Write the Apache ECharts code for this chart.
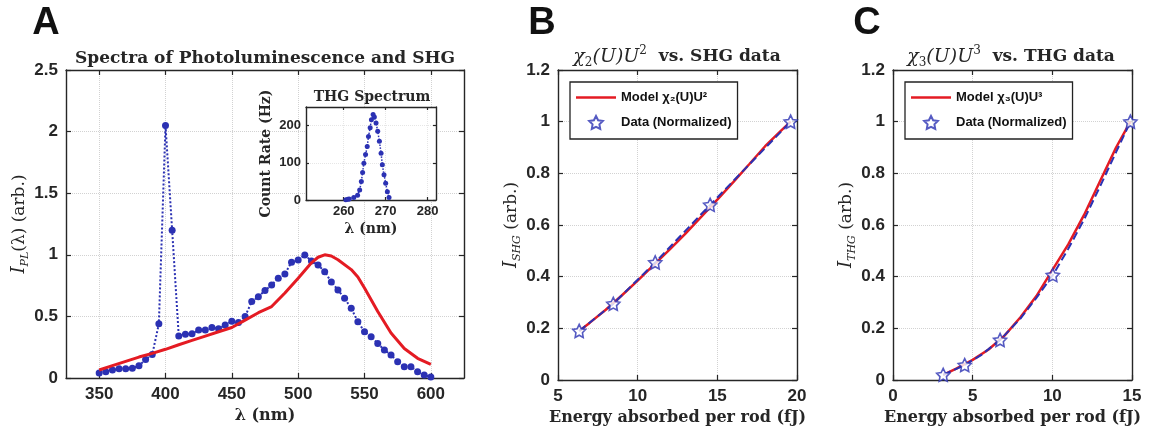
<!DOCTYPE html>
<html><head><meta charset="utf-8">
<script src="https://cdn.jsdelivr.net/npm/echarts@6/dist/echarts.min.js"></script>
<style>html,body{margin:0;padding:0;background:#fff}#c{width:1158px;height:434px}</style>
</head><body><div id="c"></div>
<script>
// ---------- Panel A : PL + SHG spectrum ----------
const plWavelength = [350,355,360,365,370,375,380,385,390,395,400,405,410,415,420,425,430,435,440,445,450,455,460,465,470,475,480,485,490,495,500,505,510,515,520,525,530,535,540,545,550,555,560,565,570,575,580,585,590,595,600];
const plSignal = [0.04,0.05,0.065,0.075,0.075,0.08,0.10,0.15,0.19,0.44,2.05,1.20,0.34,0.355,0.36,0.39,0.39,0.41,0.40,0.43,0.46,0.45,0.50,0.62,0.66,0.71,0.755,0.81,0.845,0.94,0.958,0.998,0.95,0.917,0.863,0.78,0.714,0.647,0.566,0.457,0.376,0.335,0.28,0.227,0.187,0.132,0.092,0.092,0.051,0.024,0.008];
const plModelWavelength = [350,360,370,380,390,400,410,420,430,440,450,460,470,480,490,500,510,515,520,525,530,540,545,550,560,570,580,590,600];
const plModel = [0.065,0.10,0.135,0.17,0.20,0.233,0.27,0.305,0.34,0.375,0.41,0.47,0.53,0.58,0.69,0.81,0.935,0.98,1.0,0.99,0.96,0.88,0.82,0.73,0.54,0.365,0.24,0.16,0.11];
const plTicks = [350,400,450,500,550,600];

// ---------- Inset : THG spectrum ----------
const thgWavelength = [260.5,261,261.3,262.4,263.3,263.8,264.2,264.5,264.8,265.2,265.6,265.9,266.3,266.6,267,267.3,267.7,268.1,268.5,268.9,269.2,269.6,270,270.4,270.8];
const thgCount = [1,2,3,7,13,27,50,74,99,122,144,171,194,216,230,223,207,185,158,126,95,68,45,22,7];
const insetXTicks = [260,270,280];
const insetYTicks = [0,100,200];

// ---------- Panel B : SHG vs energy ----------
const shgEnergy = [6.33,8.47,11.1,14.55,19.6];
const shgData = [0.19,0.295,0.455,0.678,1.0];
const shgModelEnergy = [6.33,7,8,9,10,11,12,13,14,15,16,17,18,19,19.6];
const shgModel = [0.19,0.222,0.272,0.327,0.385,0.445,0.505,0.567,0.632,0.698,0.766,0.835,0.905,0.965,1.0];

// ---------- Panel C : THG vs energy ----------
const thgEnergy = [3.15,4.5,6.72,10.03,14.9];
const thgData = [0.02,0.058,0.155,0.406,1.0];
const thgModelEnergy = [3.15,4,5,6,7,8,9,10,11,12,13,14,14.9];
const thgModel = [0.02,0.045,0.078,0.118,0.172,0.243,0.325,0.425,0.525,0.64,0.77,0.9,1.0];
const thgFitEnergy = [3.15,4.5,5.5,6.72,8,9,10.03,11,12,13,14,14.9];
const thgFit = [0.02,0.058,0.095,0.155,0.238,0.318,0.406,0.508,0.622,0.75,0.882,1.0];

const legendModelB = 'Model \u03C7\u2082(U)U\u00B2';
const legendModelC = 'Model \u03C7\u2083(U)U\u00B3';
const legendData = 'Data (Normalized)';

// ---------- styling ----------
const SANS = 'Liberation Sans, Arial, sans-serif';
const SERIF = 'DejaVu Serif, serif';
const INK = '#262626';
const RED = '#e41b23';
const BLUE = '#2b31b3';
const starPath = 'path://M0,-10L2.94,-4.05L9.51,-3.09L4.76,1.55L5.88,8.09L0,5L-5.88,8.09L-4.76,1.55L-9.51,-3.09L-2.94,-4.05Z';
const lineIcon = 'path://M0,0L40,0L40,2.6L0,2.6Z';
const zip = (xs, ys) => xs.map((x, i) => [x, ys[i]]);

function ax(gridIndex, position, min, max, ticks, extra, small) {
  const main = position === 'bottom' || position === 'left';
  const a = {
    type: 'value', gridIndex, position, min, max,
    axisLine: {show: true, onZero: false, lineStyle: {color: INK, width: 1.4}},
    axisTick: {show: true, inside: true, length: small ? 3 : 5, lineStyle: {color: INK, width: 1.2}},
    axisLabel: {show: main, color: INK, fontFamily: SANS, fontWeight: 'bold', fontSize: small ? 13 : 17, margin: small ? 5 : 8},
    splitLine: {show: main, lineStyle: {color: small ? '#e6e6e6' : '#d2d2d2', type: 'dotted', width: 1}}
  };
  if (Array.isArray(ticks)) {
    a.axisTick.customValues = ticks;
    a.axisLabel.customValues = ticks;
  } else {
    a.interval = ticks;
  }
  return Object.assign(a, extra || {});
}

const richSub = (size) => ({
  i: {fontFamily: SERIF, fontStyle: 'italic', fontSize: size + 1, lineHeight: 22, color: INK},
  s: {fontFamily: SERIF, fontStyle: 'italic', fontSize: 11, lineHeight: 12, verticalAlign: 'bottom', color: INK},
  n: {fontFamily: SERIF, fontSize: size, lineHeight: 22, color: INK}
});

const titleRich = {
  m: {font: 'italic 19px ' + SERIF, fill: INK, lineHeight: 24},
  s: {font: '12px ' + SERIF, fill: INK, lineHeight: 13, verticalAlign: 'bottom'},
  p: {font: '12px ' + SERIF, fill: INK, lineHeight: 13, verticalAlign: 'top'},
  b: {font: 'bold 17px ' + SERIF, fill: INK, lineHeight: 24}
};

const xNameStyle = {fontFamily: SERIF, fontWeight: 'bold', fontSize: 16, color: INK};

const legendBase = {
  orient: 'vertical', itemWidth: 40, itemHeight: 13, itemGap: 11,
  padding: [9, 6, 9, 6], borderColor: '#222', borderWidth: 1.3, backgroundColor: '#fff',
  textStyle: {fontFamily: SANS, fontWeight: 'bold', fontSize: 13, color: '#111'},
  selectedMode: false
};

const option = {
  animation: false,
  backgroundColor: '#ffffff',
  grid: [
    {left: 66, top: 70, width: 398, height: 308},
    {left: 306, top: 107, width: 130, height: 93, show: true, backgroundColor: '#ffffff', borderWidth: 0, z: 2},
    {left: 558, top: 70, width: 239, height: 310},
    {left: 893, top: 70, width: 239, height: 310}
  ],
  xAxis: [
    ax(0, 'bottom', 325, 625, plTicks, {name: '\u03BB (nm)', nameLocation: 'middle', nameGap: 26, nameTextStyle: xNameStyle}),
    ax(0, 'top', 325, 625, plTicks),
    ax(1, 'bottom', 251, 282, insetXTicks, {z: 3, name: '\u03BB (nm)', nameLocation: 'middle', nameGap: 22, nameTextStyle: {fontFamily: SERIF, fontWeight: 'bold', fontSize: 14, color: INK}}, true),
    ax(1, 'top', 251, 282, insetXTicks, {z: 3}, true),
    ax(2, 'bottom', 5, 20, 5, {name: 'Energy absorbed per rod (fJ)', nameLocation: 'middle', nameGap: 30, nameTextStyle: xNameStyle}),
    ax(2, 'top', 5, 20, 5),
    ax(3, 'bottom', 0, 15, 5, {name: 'Energy absorbed per rod (fJ)', nameLocation: 'middle', nameGap: 30, nameTextStyle: xNameStyle}),
    ax(3, 'top', 0, 15, 5)
  ],
  yAxis: [
    ax(0, 'left', 0, 2.5, 0.5, {name: '{i|I}{s|PL}{n|(\u03BB) (arb.)}', nameLocation: 'middle', nameRotate: 90, nameGap: 33,
      nameTextStyle: {rich: richSub(17)}}),
    ax(0, 'right', 0, 2.5, 0.5),
    ax(1, 'left', 0, 250, insetYTicks, {z: 3, name: 'Count Rate (Hz)', nameLocation: 'middle', nameRotate: 90, nameGap: 33,
      nameTextStyle: {fontFamily: SERIF, fontWeight: 'bold', fontSize: 14, color: INK}}, true),
    ax(1, 'right', 0, 250, insetYTicks, {z: 3}, true),
    ax(2, 'left', 0, 1.2, 0.2, {name: '{i|I}{s|SHG}{n| (arb.)}', nameLocation: 'middle', nameRotate: 90, nameGap: 33,
      nameTextStyle: {rich: richSub(17)}}),
    ax(2, 'right', 0, 1.2, 0.2),
    ax(3, 'left', 0, 1.2, 0.2, {name: '{i|I}{s|THG}{n| (arb.)}', nameLocation: 'middle', nameRotate: 90, nameGap: 33,
      nameTextStyle: {rich: richSub(17)}}),
    ax(3, 'right', 0, 1.2, 0.2)
  ],
  legend: [
    Object.assign({left: 570, top: 82, data: [{name: legendModelB, icon: lineIcon}, {name: legendData}]}, legendBase),
    Object.assign({left: 905, top: 82, data: [{name: legendModelC, icon: lineIcon}, {name: legendData}]}, legendBase)
  ],
  graphic: [
    {type: 'text', x: 46, y: 24, style: {text: 'A', font: 'bold 38px ' + SANS, fill: '#111', align: 'center', verticalAlign: 'middle'}},
    {type: 'text', x: 542, y: 24, style: {text: 'B', font: 'bold 38px ' + SANS, fill: '#111', align: 'center', verticalAlign: 'middle'}},
    {type: 'text', x: 867, y: 24, style: {text: 'C', font: 'bold 38px ' + SANS, fill: '#111', align: 'center', verticalAlign: 'middle'}},
    {type: 'text', x: 265, y: 59, style: {text: 'Spectra of Photoluminescence and SHG', font: 'bold 17px ' + SERIF, fill: INK, align: 'center', verticalAlign: 'middle'}},
    {type: 'text', x: 372, y: 97, z: 5, style: {text: 'THG Spectrum', font: 'bold 14px ' + SERIF, fill: INK, align: 'center', verticalAlign: 'middle'}},
    {type: 'text', x: 677, y: 57, style: {text: '{m|\u03C7}{s|2}{m|(U)U}{p|2}{b|  vs. SHG data}', align: 'center', verticalAlign: 'middle', rich: titleRich}},
    {type: 'text', x: 1011, y: 57, style: {text: '{m|\u03C7}{s|3}{m|(U)U}{p|3}{b|  vs. THG data}', align: 'center', verticalAlign: 'middle', rich: titleRich}}
  ],
  series: [
    // Panel A
    {type: 'line', name: 'PL+SHG', xAxisIndex: 0, yAxisIndex: 0, data: zip(plWavelength, plSignal),
     symbol: 'circle', symbolSize: 7, itemStyle: {color: BLUE}, lineStyle: {color: BLUE, width: 2, type: 'dotted'}, z: 2},
    {type: 'line', name: 'PL model', xAxisIndex: 0, yAxisIndex: 0, data: zip(plModelWavelength, plModel),
     symbol: 'none', lineStyle: {color: RED, width: 3}, z: 3},
    // Inset
    {type: 'line', name: 'THG spectrum', xAxisIndex: 2, yAxisIndex: 2, data: zip(thgWavelength, thgCount),
     symbol: 'circle', symbolSize: 5, itemStyle: {color: BLUE}, lineStyle: {color: BLUE, width: 1.5, type: 'dotted'}, z: 6},
    // Panel B
    {type: 'line', name: legendModelB, xAxisIndex: 4, yAxisIndex: 4, data: zip(shgModelEnergy, shgModel),
     symbol: 'none', lineStyle: {color: RED, width: 2.5}, itemStyle: {color: RED}, z: 3},
    {type: 'line', name: 'shg-dash', xAxisIndex: 4, yAxisIndex: 4, data: zip(shgEnergy, shgData),
     symbol: 'none', lineStyle: {color: BLUE, width: 2, type: 'dashed'}, z: 4},
    {type: 'scatter', name: legendData, xAxisIndex: 4, yAxisIndex: 4, data: zip(shgEnergy, shgData),
     symbol: starPath, symbolSize: 13, itemStyle: {color: '#ffffff', borderColor: BLUE, borderWidth: 1.6}, z: 5},
    // Panel C
    {type: 'line', name: legendModelC, xAxisIndex: 6, yAxisIndex: 6, data: zip(thgModelEnergy, thgModel),
     symbol: 'none', lineStyle: {color: RED, width: 2.5}, itemStyle: {color: RED}, z: 3},
    {type: 'line', name: 'thg-dash', xAxisIndex: 6, yAxisIndex: 6, data: zip(thgFitEnergy, thgFit),
     symbol: 'none', lineStyle: {color: BLUE, width: 2, type: 'dashed'}, z: 4},
    {type: 'scatter', name: legendData, xAxisIndex: 6, yAxisIndex: 6, data: zip(thgEnergy, thgData),
     symbol: starPath, symbolSize: 13, itemStyle: {color: '#ffffff', borderColor: BLUE, borderWidth: 1.6}, z: 5}
  ]
};

const chart = echarts.init(document.getElementById('c'), null, {renderer: 'canvas'});
chart.setOption(option);
</script></body></html>
